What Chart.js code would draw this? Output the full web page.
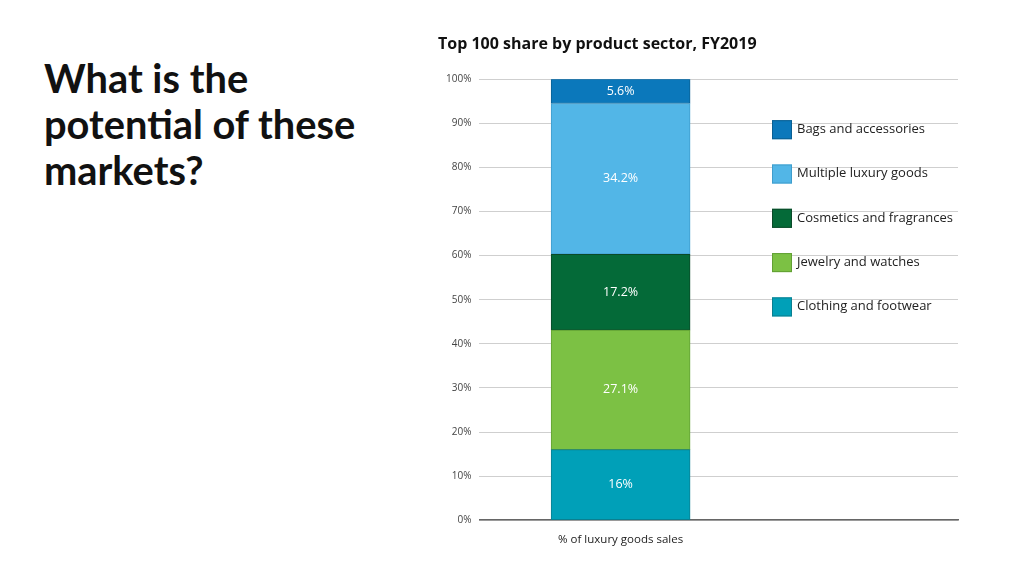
<!DOCTYPE html>
<html>
<head>
<meta charset="utf-8">
<script src="https://cdn.jsdelivr.net/npm/chart.js@4.4.1/dist/chart.umd.min.js"></script>
<style>
  html, body { margin: 0; padding: 0; background: #fff; width: 1024px; height: 576px; overflow: hidden; }
  h1 {
    position: absolute; left: 44px; top: 55px; margin: 0;
    font-family: Lato, "Open Sans", sans-serif; font-weight: 700;
    font-size: 39.8px; line-height: 46px; color: #111;
  }
  #wrap { position: absolute; left: 430px; top: 29px; width: 546px; height: 523px; }
</style>
</head>
<body>
<h1>What is the<br>potential of these<br>markets?</h1>
<div id="wrap"><canvas id="c" width="546" height="523"></canvas></div>
<script>
const categories = ['% of luxury goods sales'];
const sectors = ['Clothing and footwear', 'Jewelry and watches', 'Cosmetics and fragrances', 'Multiple luxury goods', 'Bags and accessories'];
const shares = [16, 27.1, 17.2, 34.2, 5.6];
const shareLabels = ['16%', '27.1%', '17.2%', '34.2%', '5.6%'];
const colors = ['#00a0b8', '#7cc144', '#046a38', '#52b6e7', '#0b78bb'];
const borders = ['#0a7f90', '#62a034', '#0a4a28', '#3f9dcc', '#0a5f93'];
const yTicks = [0, 10, 20, 30, 40, 50, 60, 70, 80, 90, 100];

const barX = 0.295; // where the single bar sits along the axis

const segLabels = {
  id: 'segLabels',
  afterDatasetsDraw(chart) {
    const ctx = chart.ctx;
    ctx.save();
    ctx.fillStyle = '#fff';
    ctx.font = '12.5px "Open Sans"';
    ctx.textAlign = 'center';
    ctx.textBaseline = 'middle';
    chart.data.datasets.forEach((ds, i) => {
      const bar = chart.getDatasetMeta(i).data[0];
      ctx.fillText(shareLabels[i], bar.x, (bar.y + bar.base) / 2);
    });
    ctx.restore();
  }
};

const sideLegend = {
  id: 'sideLegend',
  afterDraw(chart) {
    const ctx = chart.ctx;
    const a = chart.chartArea;
    ctx.save();
    ctx.font = '13px "Open Sans"';
    ctx.textBaseline = 'middle';
    for (let k = 0; k < sectors.length; k++) {
      const i = sectors.length - 1 - k;
      const cy = a.top + 50 + k * 44.3;
      const x = 772 - 430;
      ctx.fillStyle = colors[i];
      ctx.fillRect(x, cy - 9, 20, 19);
      ctx.strokeStyle = borders[i];
      ctx.lineWidth = 1;
      ctx.strokeRect(x + 0.5, cy - 8.5, 19, 18);
      ctx.fillStyle = '#222';
      ctx.fillText(sectors[i], x + 25, cy);
    }
    ctx.restore();
  }
};

new Chart(document.getElementById('c'), {
  type: 'bar',
  data: {
    datasets: sectors.map((s, i) => ({
      label: s,
      data: [{ x: barX, y: shares[i] }],
      backgroundColor: colors[i],
      borderColor: borders[i],
      borderWidth: 1,
      borderSkipped: false,
      barThickness: 139
    }))
  },
  options: {
    responsive: false,
    animation: false,
    layout: { padding: { left: 8, right: 18, top: 0, bottom: 0 } },
    plugins: {
      legend: { display: false },
      tooltip: { enabled: false },
      title: {
        display: true,
        text: 'Top 100 share by product sector, FY2019',
        align: 'start',
        color: '#111',
        font: { family: 'Open Sans', size: 16, weight: 'bold' },
        padding: { top: 6, bottom: 25 }
      }
    },
    scales: {
      x: {
        type: 'linear',
        min: 0, max: 1,
        offset: false,
        stacked: true,
        afterBuildTicks: axis => { axis.ticks = [{ value: barX }]; },
        ticks: {
          callback: () => categories[0],
          color: '#222',
          font: { family: 'Open Sans', size: 11.5 },
          padding: 5
        },
        grid: { display: false },
        border: { color: '#666', width: 1.5 }
      },
      y: {
        stacked: true,
        min: 0, max: 100,
        afterBuildTicks: axis => { axis.ticks = yTicks.map(v => ({ value: v })); },
        ticks: {
          callback: v => v + '%',
          color: '#444',
          font: { family: 'Open Sans', size: 10 },
          padding: 8
        },
        grid: { color: '#cfcfcf', drawTicks: false },
        border: { display: false }
      }
    }
  },
  plugins: [segLabels, sideLegend]
});
</script>
</body>
</html>
